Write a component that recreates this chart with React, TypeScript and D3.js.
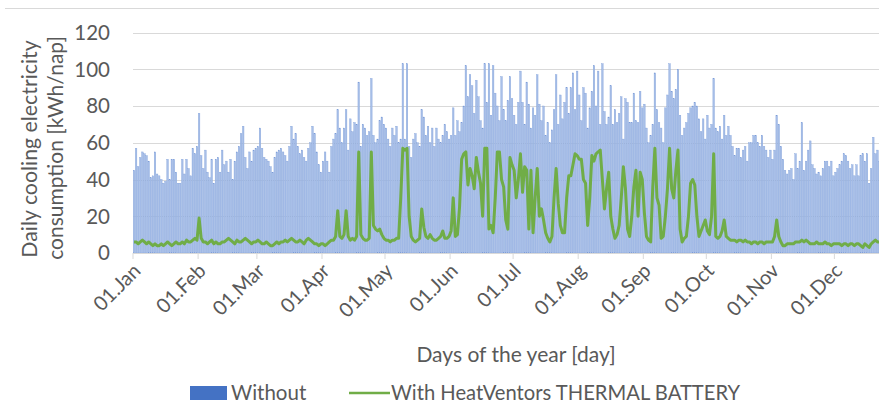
import React from "react";
import * as d3 from "d3";

// Tick labels (month starts)
const monthLabels = ["01.Jan", "01.Feb", "01.Mar", "01.Apr", "01.May", "01.Jun", "01.Jul", "01.Aug", "01.Sep", "01.Oct", "01.Nov", "01.Dec"];
const monthStartDays = [0, 31, 59, 90, 120, 151, 181, 212, 243, 273, 304, 334];
const yTicks = [0, 20, 40, 60, 80, 100, 120];
const seriesNames = ["Without", "With HeatVentors THERMAL BATTERY"];

// Daily cooling electricity consumption without battery [kWh/day]
const withoutJan = [45, 57, 47, 52, 55, 54, 53, 50, 41, 42, 55, 43, 42, 40, 38, 39, 51, 40, 51, 51, 44, 38, 38, 51, 43, 51, 46, 42, 57, 54, 58];
const withoutFeb = [76, 53, 46, 56, 44, 41, 51, 38, 51, 52, 44, 56, 48, 50, 44, 51, 40, 50, 55, 58, 65, 69, 52, 46, 55, 50, 56, 57];
const withoutMar = [58, 68, 57, 52, 51, 50, 47, 44, 52, 55, 56, 57, 55, 53, 50, 58, 69, 62, 65, 58, 54, 56, 52, 50, 57, 60, 69, 65, 55, 48, 44];
const withoutApr = [50, 55, 50, 44, 58, 62, 65, 78, 68, 60, 68, 78, 56, 73, 66, 71, 70, 93, 58, 70, 68, 64, 66, 95, 64, 60, 62, 72, 74, 70];
const withoutMay = [68, 62, 58, 68, 64, 69, 60, 62, 103, 62, 103, 58, 52, 62, 65, 60, 58, 78, 74, 64, 69, 60, 68, 58, 68, 62, 60, 64, 70, 66, 62];
const withoutJun = [64, 79, 64, 72, 66, 71, 80, 102, 85, 97, 91, 76, 94, 85, 72, 68, 103, 82, 103, 75, 102, 87, 80, 72, 96, 78, 72, 83, 96, 84];
const withoutJul = [75, 70, 82, 99, 82, 70, 93, 81, 68, 79, 75, 97, 81, 72, 80, 64, 71, 60, 67, 78, 97, 70, 86, 73, 82, 90, 76, 90, 98, 78, 99];
const withoutAug = [86, 72, 90, 87, 68, 79, 88, 102, 80, 99, 70, 103, 77, 70, 74, 91, 70, 78, 71, 76, 85, 62, 84, 82, 71, 71, 87, 72, 71, 88, 79];
const withoutSep = [81, 68, 60, 64, 70, 98, 78, 71, 68, 60, 79, 86, 103, 88, 84, 89, 100, 75, 64, 68, 71, 76, 79, 80, 82, 80, 73, 66, 73, 62];
const withoutOct = [75, 68, 70, 95, 68, 66, 69, 62, 75, 64, 69, 64, 58, 53, 57, 57, 52, 56, 58, 50, 60, 60, 64, 64, 60, 58, 64, 58, 56, 52, 56];
const withoutNov = [51, 56, 75, 70, 58, 51, 45, 43, 45, 46, 40, 54, 46, 50, 71, 45, 50, 56, 61, 48, 46, 43, 44, 42, 46, 50, 50, 47, 50, 42];
const withoutDec = [44, 46, 48, 50, 54, 53, 50, 46, 48, 42, 48, 42, 53, 54, 50, 54, 38, 46, 63, 54, 56, 50, 48, 52, 50, 48, 46, 50, 52, 48, 50];

// Daily cooling electricity consumption with HeatVentors THERMAL BATTERY [kWh/day]
const withJan = [6, 6, 5, 6, 7, 6, 5, 6, 5, 4, 5, 4, 4, 5, 4, 5, 6, 5, 4, 5, 6, 5, 5, 6, 5, 7, 6, 6, 7, 8, 7];
const withFeb = [19, 8, 6, 6, 5, 6, 7, 5, 6, 5, 5, 6, 6, 7, 8, 7, 6, 5, 7, 6, 6, 7, 8, 7, 6, 5, 6, 6];
const withMar = [7, 6, 5, 5, 6, 5, 4, 4, 5, 6, 5, 6, 6, 7, 6, 7, 8, 7, 6, 6, 7, 6, 5, 7, 8, 7, 6, 5, 5, 4, 5];
const withApr = [5, 4, 5, 6, 7, 7, 9, 23, 9, 8, 10, 23, 9, 7, 8, 7, 9, 55, 10, 8, 7, 7, 8, 55, 15, 13, 12, 13, 10, 8];
const withMay = [7, 7, 6, 7, 7, 8, 8, 30, 57, 56, 57, 20, 9, 7, 6, 7, 8, 24, 14, 9, 8, 10, 8, 7, 7, 8, 9, 12, 8, 8, 9];
const withJun = [12, 30, 9, 10, 25, 51, 54, 55, 37, 46, 42, 35, 52, 44, 38, 20, 57, 57, 13, 15, 11, 30, 55, 55, 40, 36, 18, 13, 52, 48];
const withJul = [45, 30, 40, 54, 33, 47, 45, 13, 45, 11, 30, 46, 20, 24, 18, 11, 8, 6, 9, 30, 46, 27, 15, 11, 11, 30, 42, 42, 48, 54, 53];
const withAug = [51, 51, 40, 38, 15, 30, 53, 50, 54, 55, 56, 40, 24, 35, 44, 20, 13, 8, 10, 15, 30, 47, 35, 13, 9, 20, 36, 45, 20, 44, 40];
const withSep = [22, 9, 7, 6, 36, 57, 30, 26, 8, 9, 20, 35, 57, 35, 30, 45, 56, 13, 6, 8, 9, 20, 38, 40, 37, 20, 9, 12, 15, 18];
const withOct = [12, 10, 20, 54, 9, 8, 9, 12, 18, 9, 8, 7, 7, 7, 6, 7, 7, 6, 7, 6, 6, 5, 6, 6, 5, 6, 6, 5, 6, 6, 6];
const withNov = [6, 9, 18, 9, 6, 4, 4, 5, 5, 5, 5, 6, 6, 6, 7, 6, 7, 6, 5, 5, 5, 6, 5, 5, 5, 6, 5, 5, 4, 5];
const withDec = [5, 5, 5, 4, 5, 5, 4, 5, 5, 4, 5, 5, 4, 3, 5, 4, 3, 5, 6, 7, 6, 6, 5, 6, 5, 6, 5, 6, 5, 6, 5];

const withoutValues = [
  ...withoutJan, ...withoutFeb, ...withoutMar, ...withoutApr, ...withoutMay, ...withoutJun,
  ...withoutJul, ...withoutAug, ...withoutSep, ...withoutOct, ...withoutNov, ...withoutDec,
];
const withValues = [
  ...withJan, ...withFeb, ...withMar, ...withApr, ...withMay, ...withJun,
  ...withJul, ...withAug, ...withSep, ...withOct, ...withNov, ...withDec,
];

const W = 879;
const H = 405;
const FONT = "Lato, 'Open Sans', sans-serif";
const TEXT = "#595959";

export default function App() {
  const days = d3.range(withoutValues.length);
  const left = 133;
  const dayW = 2.1;
  const x = d3.scaleBand<number>().domain(days).range([left, left + days.length * dayW]).paddingInner(0.25).paddingOuter(0.1);
  const y = d3.scaleLinear().domain([0, 120]).range([253, 32.5]);
  const dayX = (d: number) => left + d * dayW;

  const line = d3
    .line<number>()
    .x((_, i) => (x(i) as number) + x.bandwidth() / 2)
    .y((v) => y(v))
    .curve(d3.curveLinear);

  return (
    <>
      <style>{`body{margin:0}`}</style>
      <svg width={W} height={H} style={{ display: "block", background: "#fff" }} fontFamily={FONT}>
        <defs>
          <clipPath id="plotClip">
            <rect x={left} y={0} width={W - left} height={H} />
          </clipPath>
        </defs>
        {/* top border */}
        <line x1={5} x2={W} y1={8.5} y2={8.5} stroke="#d9d9d9" strokeWidth={1} />

        {/* gridlines */}
        {yTicks.map((t) => (
          <line key={t} x1={left} x2={W} y1={Math.round(y(t)) + 0.5} y2={Math.round(y(t)) + 0.5} stroke="#d9d9d9" strokeWidth={1} />
        ))}

        {/* y tick labels */}
        {yTicks.map((t) => (
          <text key={"yl" + t} x={110} y={y(t)} dy="0.36em" textAnchor="end" fontSize={20.5} fill={TEXT}>
            {t}
          </text>
        ))}

        <g clipPath="url(#plotClip)">
          {/* bars */}
          {days.map((d) => (
            <rect
              key={d}
              x={x(d)}
              y={y(withoutValues[d])}
              width={x.bandwidth()}
              height={y(0) - y(withoutValues[d])}
              fill="#a8bfe8"
              stroke="#7a9bd8"
              strokeWidth={0.35}
            />
          ))}
          {/* line */}
          <path d={line(withValues) || ""} fill="none" stroke="#70ad47" strokeWidth={3} strokeLinejoin="round" />
        </g>

        {/* x axis */}
        <line x1={left} x2={W} y1={253.5} y2={253.5} stroke="#d9d9d9" strokeWidth={1} />
        {monthStartDays.map((d, i) => (
          <g key={"m" + d}>
            <line x1={dayX(d)} x2={dayX(d)} y1={253} y2={259} stroke="#d9d9d9" strokeWidth={1} />
            <text
              transform={`translate(${dayX(d) + 9},${272}) rotate(-45)`}
              textAnchor="end"
              fontSize={20}
              fill={TEXT}
            >
              {monthLabels[i]}
            </text>
          </g>
        ))}

        {/* axis titles */}
        <text x={516} y={362} textAnchor="middle" fontSize={21} fill={TEXT}>
          Days of the year [day]
        </text>
        <text transform="translate(37,149) rotate(-90)" textAnchor="middle" fontSize={21.3} fill={TEXT}>
          Daily cooling electricity
        </text>
        <text transform="translate(63,148) rotate(-90)" textAnchor="middle" fontSize={21} fill={TEXT}>
          consumption [kWh/nap]
        </text>

        {/* legend */}
        <rect x={190} y={386} width={37} height={14} fill="#4472c4" />
        <text x={231} y={400} fontSize={20.5} fill={TEXT}>
          {seriesNames[0]}
        </text>
        <line x1={349} x2={390} y1={393} y2={393} stroke="#70ad47" strokeWidth={2.6} />
        <text x={391} y={400} fontSize={20.2} fill={TEXT}>
          {seriesNames[1]}
        </text>
      </svg>
    </>
  );
}
